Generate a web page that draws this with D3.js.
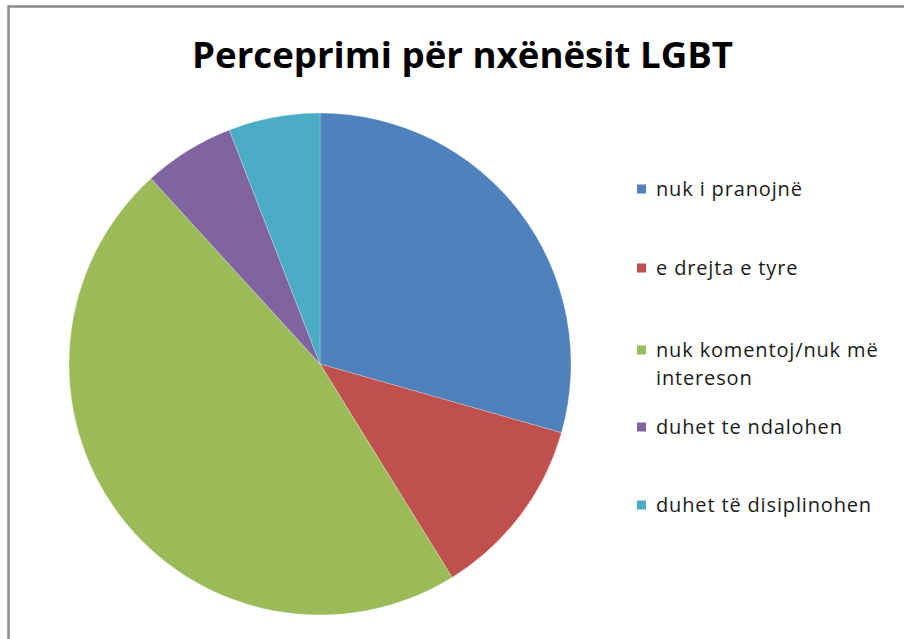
<!DOCTYPE html>
<html>
<head>
<meta charset="utf-8">
<script src="https://cdn.jsdelivr.net/npm/d3@7"></script>
<style>
  body { margin: 0; background: #fff; }
  svg { display: block; }
</style>
</head>
<body>
<div id="chart"></div>
<script>
const title = 'Perceprimi për nxënësit LGBT'
const categories = ['nuk i pranojnë', 'e drejta e tyre', 'nuk komentoj/nuk më intereson', 'duhet te ndalohen', 'duhet të disiplinohen']
const legendLines = [['nuk i pranojnë'], ['e drejta e tyre'], ['nuk komentoj/nuk më', 'intereson'], ['duhet te ndalohen'], ['duhet të disiplinohen']]
const values = [5, 2, 8, 1, 1]
const colors = ['#4F81BD', '#C0504D', '#9BBB59', '#8064A2', '#4BACC6']

const width = 904, height = 639
const cx = 320, cy = 364, radius = 251

const svg = d3.select('#chart').append('svg')
  .attr('width', width)
  .attr('height', height)

// chart area frame (only the top/left edges are inside the picture)
svg.append('rect')
  .attr('x', 8.5).attr('y', 6.5)
  .attr('width', 940).attr('height', 700)
  .attr('fill', '#fff')
  .attr('stroke', '#8a8a8a')
  .attr('stroke-width', 2.5)

svg.append('text')
  .text(title)
  .attr('x', 192)
  .attr('y', 68)
  .attr('textLength', 541)
  .attr('lengthAdjust', 'spacingAndGlyphs')
  .attr('font-family', '"Open Sans", sans-serif')
  .attr('font-weight', 'bold')
  .attr('font-size', 36)
  .attr('fill', '#000')

const color = d3.scaleOrdinal().domain(categories).range(colors)

const pie = d3.pie().sort(null).value(d => d.value)
const arc = d3.arc().innerRadius(0).outerRadius(radius)

const data = categories.map((c, i) => ({ name: c, value: values[i] }))

svg.append('g')
  .attr('transform', `translate(${cx},${cy})`)
  .selectAll('path')
  .data(pie(data))
  .join('path')
  .attr('d', arc)
  .attr('fill', d => color(d.data.name))
  .attr('stroke', '#fff')
  .attr('stroke-width', 0.4)
  .attr('stroke-opacity', 0.6)

// legend rows (the third one wraps onto two lines)
const rowY = [189, 268, 350, 427, 505]

const items = svg.append('g').selectAll('g')
  .data(categories)
  .join('g')
  .attr('transform', (d, i) => `translate(637,${rowY[i]})`)

items.append('rect')
  .attr('x', 0).attr('y', -4.5)
  .attr('width', 9).attr('height', 9)
  .attr('fill', d => color(d))

items.append('text')
  .attr('x', 19)
  .attr('y', 6.5)
  .attr('font-family', '"Open Sans", sans-serif')
  .attr('font-size', 20)
  .attr('letter-spacing', 0.85)
  .attr('fill', '#1a1a1a')
  .selectAll('tspan')
  .data((d, i) => legendLines[i])
  .join('tspan')
  .attr('x', 19)
  .attr('dy', (d, i) => i === 0 ? 0 : 28)
  .text(d => d)
</script>
</body>
</html>
